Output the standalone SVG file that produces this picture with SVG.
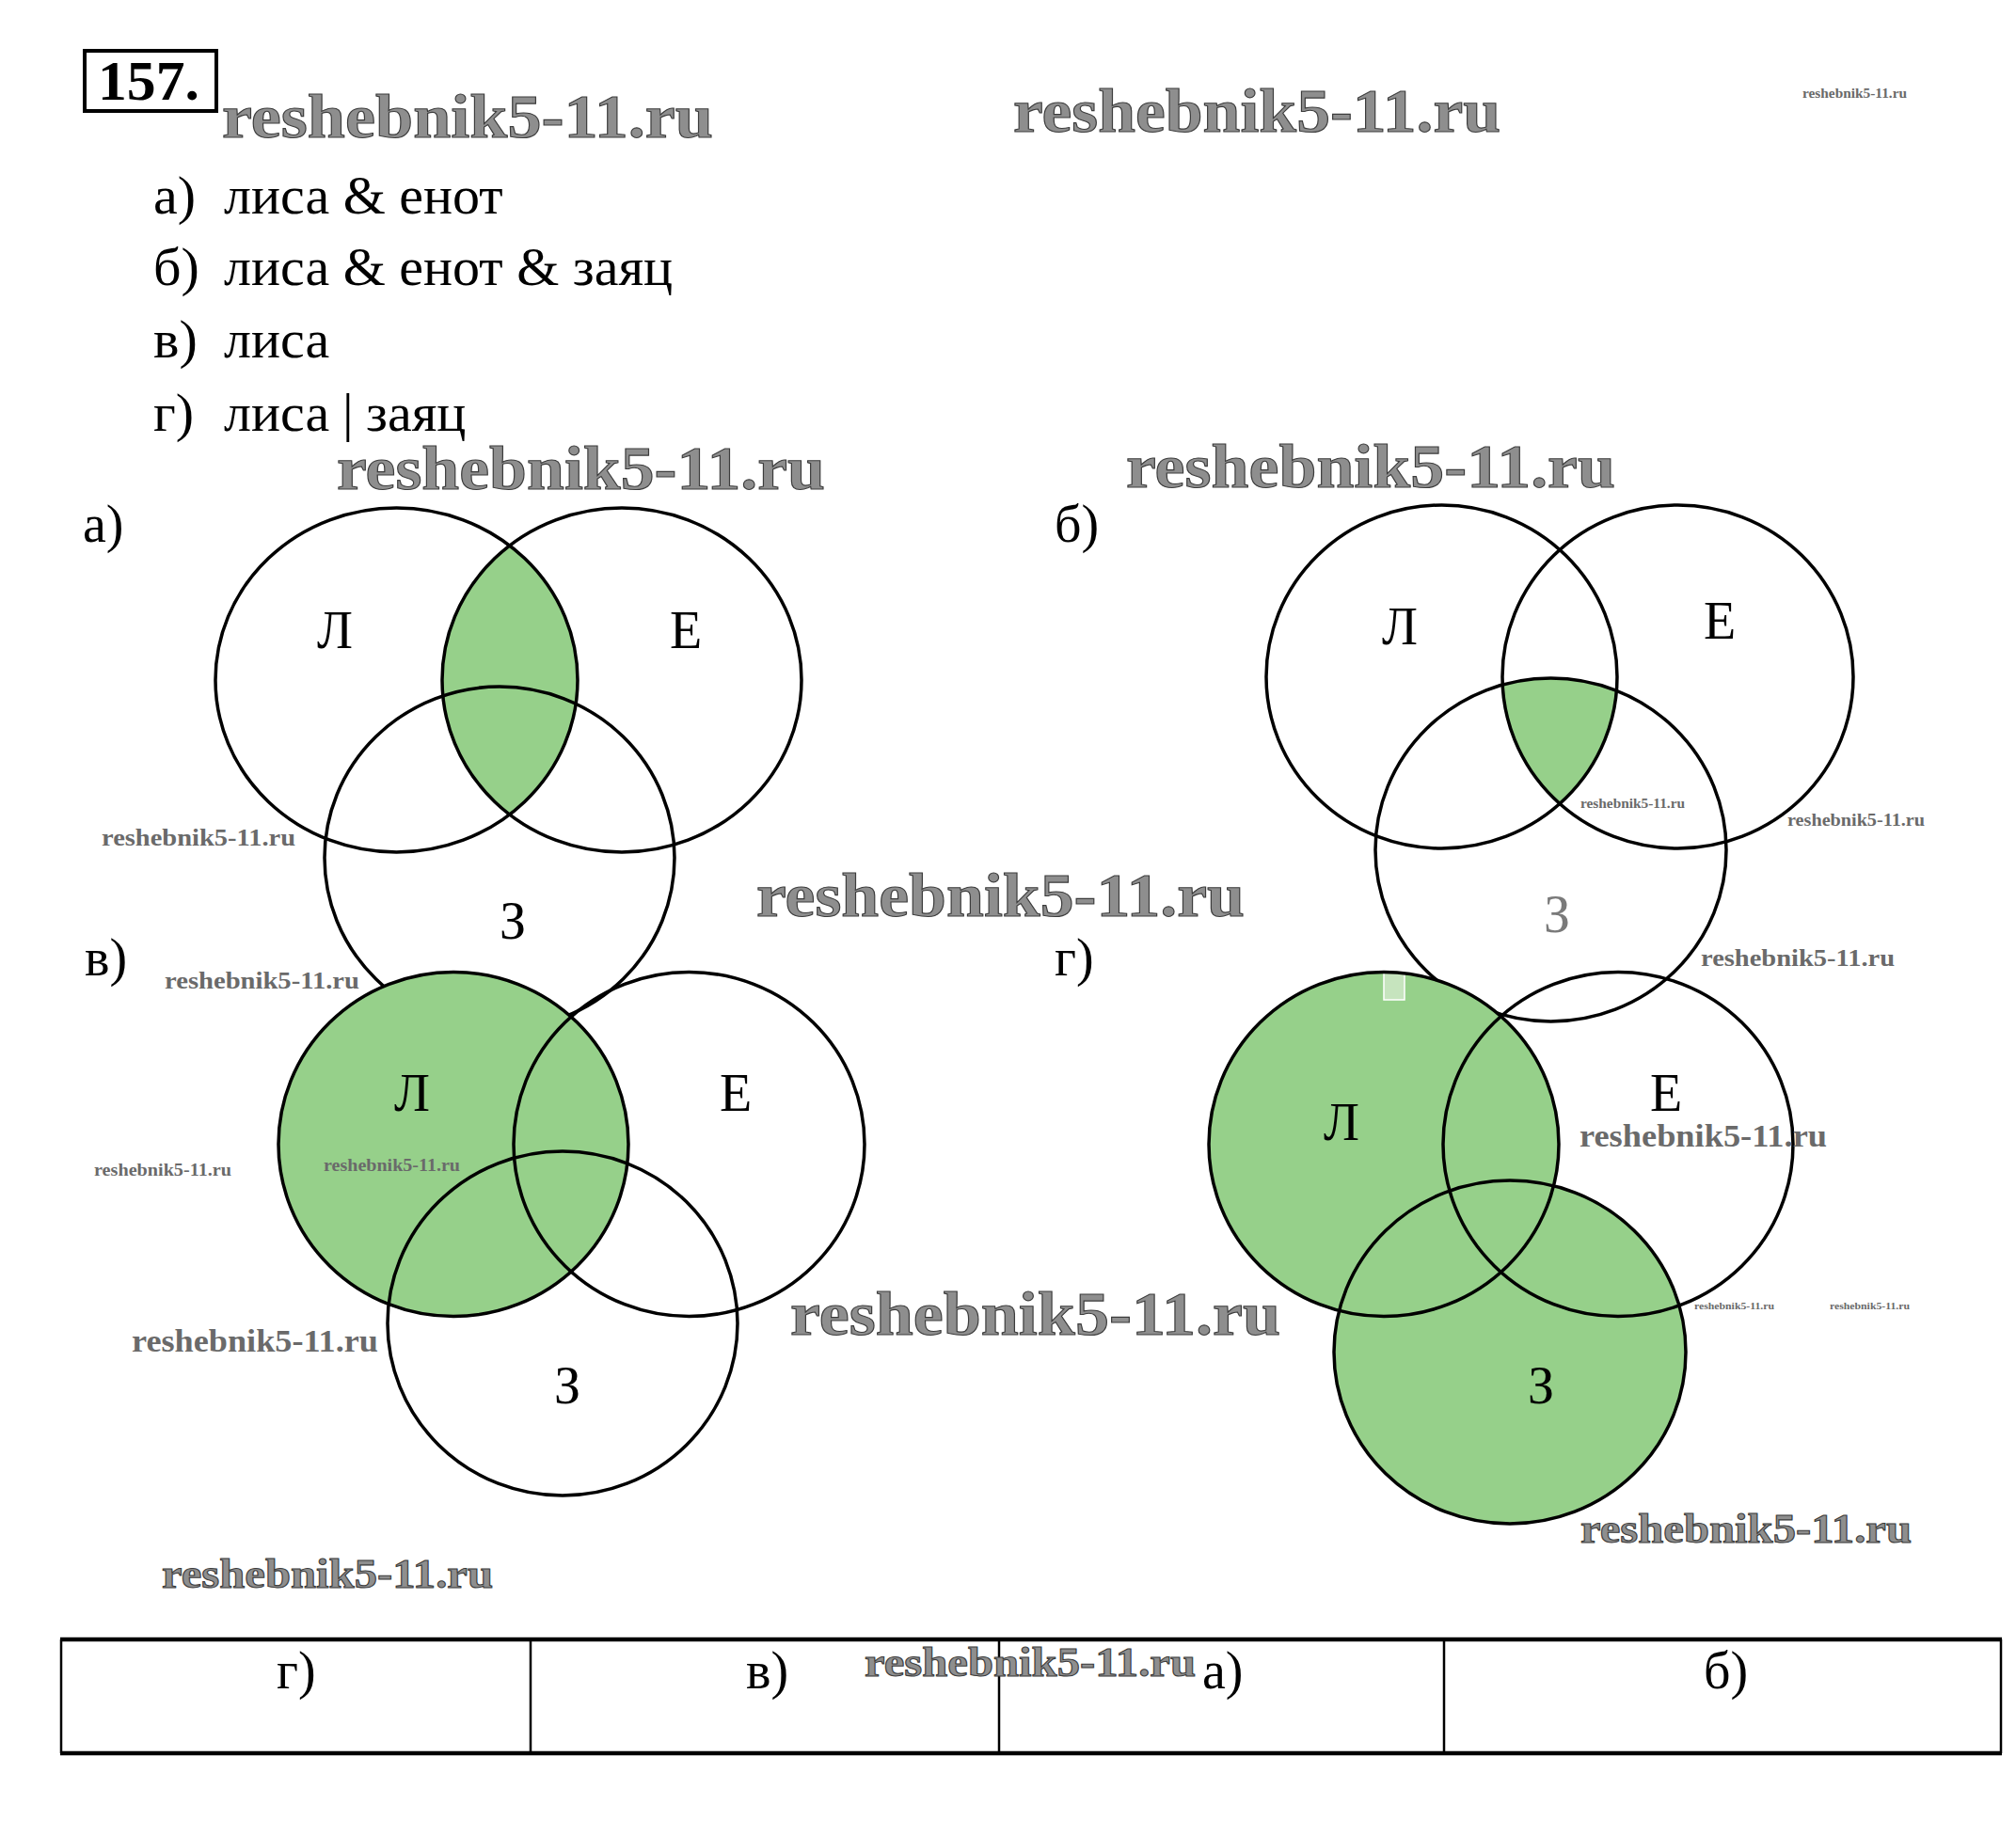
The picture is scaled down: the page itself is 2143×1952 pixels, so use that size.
<svg xmlns="http://www.w3.org/2000/svg" width="2143" height="1952" viewBox="0 0 2143 1952">
<style>
.t{font-family:"Liberation Serif","Times New Roman",serif;font-size:58px;fill:#000}
.lb{font-family:"Liberation Serif","Times New Roman",serif;font-size:56px;fill:#000}
.o{fill:none;stroke:#000;stroke-width:3.5}
.g{fill:#96d08a;stroke:none}
.wm{font-family:"Liberation Serif","Times New Roman",serif;font-weight:bold;fill:#8e8e8e;stroke:#3c3c3c;stroke-width:1.1}
.ws{font-family:"Liberation Serif","Times New Roman",serif;font-weight:bold;fill:#6a6a6a}
.tl{stroke:#000;stroke-width:2.5}
.tb{stroke:#000;stroke-width:4.5}
</style>
<defs>
<clipPath id="cA_E"><ellipse cx="661" cy="723" rx="191" ry="183"/></clipPath>
<clipPath id="cB_L"><ellipse cx="1532.5" cy="719.5" rx="186.5" ry="182.5"/></clipPath>
<clipPath id="cB_E"><ellipse cx="1783.5" cy="719.5" rx="186.5" ry="182.5"/></clipPath>
</defs>
<rect width="2143" height="1952" fill="#fff"/>

<g id="header">
<rect x="90" y="54" width="140" height="64" fill="none" stroke="#000" stroke-width="4"/>
<text x="104" y="106" textLength="108" lengthAdjust="spacingAndGlyphs" style="font-family:'Liberation Serif',serif;font-weight:bold;font-size:60px">157.</text>
</g>

<g id="task-list">
<text class="t" x="163" y="227">а)</text><text class="t" x="238" y="227">лиса &amp; енот</text>
<text class="t" x="163" y="303">б)</text><text class="t" x="238" y="303">лиса &amp; енот &amp; заяц</text>
<text class="t" x="163" y="380">в)</text><text class="t" x="238" y="380">лиса</text>
<text class="t" x="163" y="458">г)</text>
<text class="t" y="458"><tspan x="238">лиса</tspan><tspan x="364">|</tspan><tspan x="389">заяц</tspan></text>
</g>

<g id="diagram-a">
<text class="lb" x="88" y="576">а)</text>
<ellipse class="g" cx="421.5" cy="723" rx="192.5" ry="183" clip-path="url(#cA_E)"/>
<ellipse class="o" cx="421.5" cy="723" rx="192.5" ry="183"/>
<ellipse class="o" cx="661" cy="723" rx="191" ry="183"/>
<ellipse class="o" cx="531" cy="912" rx="186" ry="182"/>
<text class="lb" x="337" y="689">Л</text>
<text class="lb" x="712" y="689">Е</text>
<text class="lb" x="531" y="998">З</text>
</g>

<g id="diagram-b">
<text class="lb" x="1121" y="576">б)</text>
<g clip-path="url(#cB_L)"><g clip-path="url(#cB_E)"><ellipse class="g" cx="1648.5" cy="903.5" rx="186.5" ry="182.5"/></g></g>
<ellipse class="o" cx="1532.5" cy="719.5" rx="186.5" ry="182.5"/>
<ellipse class="o" cx="1783.5" cy="719.5" rx="186.5" ry="182.5"/>
<ellipse class="o" cx="1648.5" cy="903.5" rx="186.5" ry="182.5"/>
<text class="lb" x="1469" y="685">Л</text>
<text class="lb" x="1811" y="679">Е</text>
<text class="lb" x="1641" y="991" style="fill:#7a7a7a">З</text>
</g>

<g id="diagram-v">
<text class="lb" x="90" y="1037">в)</text>
<ellipse class="g" cx="482" cy="1216.5" rx="186" ry="183"/>
<ellipse class="o" cx="482" cy="1216.5" rx="186" ry="183"/>
<ellipse class="o" cx="732.5" cy="1216.5" rx="186.5" ry="183"/>
<ellipse class="o" cx="598" cy="1407" rx="186" ry="183"/>
<text class="lb" x="419" y="1181">Л</text>
<text class="lb" x="765" y="1181">Е</text>
<text class="lb" x="589" y="1492">З</text>
</g>

<g id="diagram-g">
<text class="lb" x="1121" y="1037">г)</text>
<ellipse class="g" cx="1471" cy="1216.5" rx="186" ry="183"/>
<ellipse class="g" cx="1605" cy="1437.5" rx="187" ry="182.5"/>
<rect x="1471" y="1034" width="22" height="29" fill="#c6e4be" stroke="#fff" stroke-width="1.5"/>
<ellipse class="o" cx="1471" cy="1216.5" rx="186" ry="183"/>
<ellipse class="o" cx="1720" cy="1216.5" rx="186" ry="183"/>
<ellipse class="o" cx="1605" cy="1437.5" rx="187" ry="182.5"/>
<text class="lb" x="1407" y="1212">Л</text>
<text class="lb" x="1754" y="1181">Е</text>
<text class="lb" x="1624" y="1492">З</text>
</g>

<g id="answer-table">
<line class="tb" x1="64" y1="1743" x2="2128" y2="1743"/>
<line class="tb" x1="64" y1="1864" x2="2128" y2="1864"/>
<line class="tl" x1="65" y1="1743" x2="65" y2="1864"/>
<line class="tl" x1="564" y1="1743" x2="564" y2="1864"/>
<line class="tl" x1="1062" y1="1743" x2="1062" y2="1864"/>
<line class="tl" x1="1535" y1="1743" x2="1535" y2="1864"/>
<line class="tl" x1="2127" y1="1743" x2="2127" y2="1864"/>
<text class="lb" x="294" y="1795">г)</text>
<text class="lb" x="793" y="1795">в)</text>
<text class="lb" x="1278" y="1795">а)</text>
<text class="lb" x="1811" y="1795">б)</text>
</g>

<g id="connectors"/>

<g id="watermarks">
<text class="wm" x="236" y="146" font-size="66" textLength="522" lengthAdjust="spacingAndGlyphs">reshebnik5-11.ru</text>
<text class="wm" x="1077" y="140" font-size="66" textLength="518" lengthAdjust="spacingAndGlyphs">reshebnik5-11.ru</text>
<text class="wm" x="358" y="520" font-size="66" textLength="519" lengthAdjust="spacingAndGlyphs">reshebnik5-11.ru</text>
<text class="wm" x="1197" y="518" font-size="66" textLength="520" lengthAdjust="spacingAndGlyphs">reshebnik5-11.ru</text>
<text class="wm" x="804" y="974" font-size="66" textLength="519" lengthAdjust="spacingAndGlyphs">reshebnik5-11.ru</text>
<text class="wm" x="840" y="1419" font-size="66" textLength="521" lengthAdjust="spacingAndGlyphs">reshebnik5-11.ru</text>
<text class="wm" x="172" y="1688" font-size="45" textLength="352" lengthAdjust="spacingAndGlyphs" stroke-width="0.8">reshebnik5-11.ru</text>
<text class="wm" x="1680" y="1640" font-size="45" textLength="352" lengthAdjust="spacingAndGlyphs" stroke-width="0.8">reshebnik5-11.ru</text>
<text class="wm" x="919" y="1782" font-size="45" textLength="352" lengthAdjust="spacingAndGlyphs" stroke-width="0.8">reshebnik5-11.ru</text>
<text class="ws" x="140" y="1437" font-size="33" textLength="262" lengthAdjust="spacingAndGlyphs">reshebnik5-11.ru</text>
<text class="ws" x="1679" y="1219" font-size="33" textLength="263" lengthAdjust="spacingAndGlyphs">reshebnik5-11.ru</text>
<text class="ws" x="108" y="899" font-size="26" textLength="206" lengthAdjust="spacingAndGlyphs">reshebnik5-11.ru</text>
<text class="ws" x="175" y="1051" font-size="26" textLength="207" lengthAdjust="spacingAndGlyphs">reshebnik5-11.ru</text>
<text class="ws" x="1808" y="1027" font-size="26" textLength="206" lengthAdjust="spacingAndGlyphs">reshebnik5-11.ru</text>
<text class="ws" x="1900" y="878" font-size="18" textLength="146" lengthAdjust="spacingAndGlyphs">reshebnik5-11.ru</text>
<text class="ws" x="100" y="1250" font-size="18" textLength="146" lengthAdjust="spacingAndGlyphs">reshebnik5-11.ru</text>
<text class="ws" x="344" y="1245" font-size="18" textLength="145" lengthAdjust="spacingAndGlyphs">reshebnik5-11.ru</text>
<text class="ws" x="1916" y="104" font-size="14" textLength="111" lengthAdjust="spacingAndGlyphs">reshebnik5-11.ru</text>
<text class="ws" x="1680" y="859" font-size="14" textLength="111" lengthAdjust="spacingAndGlyphs">reshebnik5-11.ru</text>
<text class="ws" x="1801" y="1392" font-size="11" textLength="85" lengthAdjust="spacingAndGlyphs">reshebnik5-11.ru</text>
<text class="ws" x="1945" y="1392" font-size="11" textLength="85" lengthAdjust="spacingAndGlyphs">reshebnik5-11.ru</text>
</g>
</svg>
